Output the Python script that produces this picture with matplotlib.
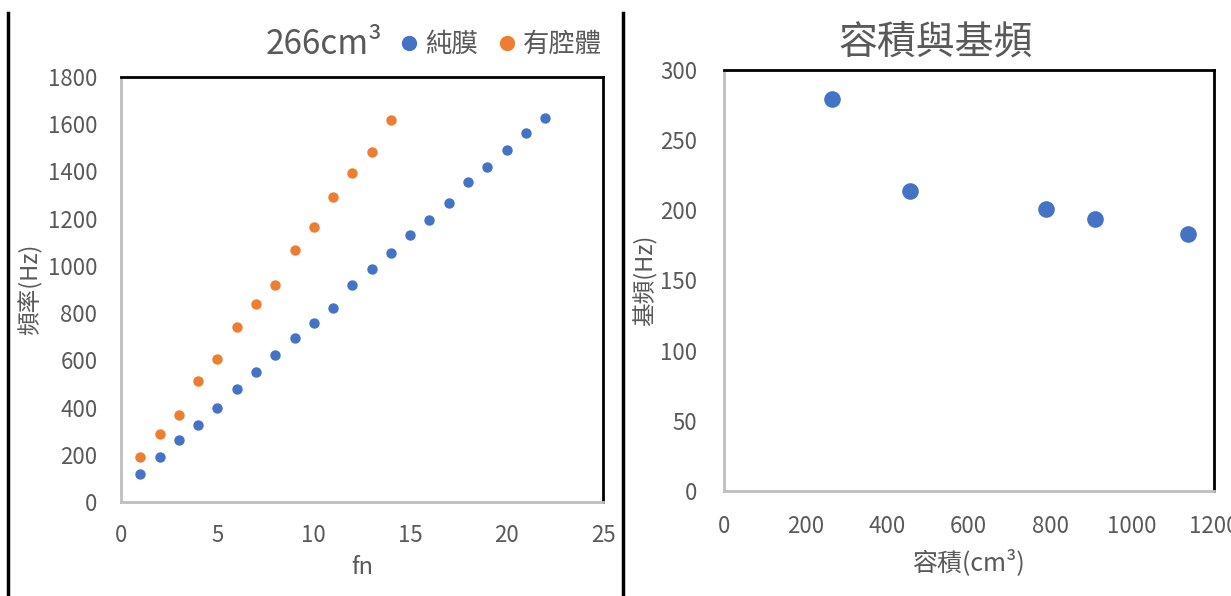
import matplotlib
matplotlib.use("Agg")
from matplotlib import pyplot as plt
from matplotlib.lines import Line2D

plt.rcParams['font.family'] = ['Noto Sans CJK TC', 'DejaVu Sans']

# left chart: harmonics of 266cm3 volume
fn_membrane = list(range(1, 23))
freq_membrane = [117, 189, 261, 325, 397, 479, 551, 623, 695, 759, 822,
                 920, 985, 1056, 1129, 1193, 1265, 1355, 1419, 1491, 1563, 1626]
fn_cavity = list(range(1, 15))
freq_cavity = [189, 289, 370, 514, 604, 740, 840, 920, 1066, 1165, 1292,
               1392, 1481, 1617]

# right chart: volume vs fundamental
volume = [266, 455, 790, 908, 1138]
fundamental = [279, 213.5, 201, 193.5, 183]

blue = '#4472C4'
orange = '#ED7D31'
gray = '#595959'

fig = plt.figure(figsize=(12.31, 5.96), dpi=100)


def style_axes(ax):
    for side in ['top', 'right']:
        ax.spines[side].set_color('black')
        ax.spines[side].set_linewidth(2)
    for side in ['left', 'bottom']:
        ax.spines[side].set_color('#BFBFBF')
        ax.spines[side].set_linewidth(2)
    ax.tick_params(length=0, labelsize=16, labelcolor=gray)


ax1 = fig.add_axes([0.0983, 0.1577, 0.3915, 0.7133])
ax1.scatter(fn_membrane, freq_membrane, s=42, color=blue, label='純膜', zorder=3)
ax1.scatter(fn_cavity, freq_cavity, s=42, color=orange, label='有腔體', zorder=3)
ax1.set_xlim(0, 25)
ax1.set_ylim(0, 1800)
ax1.set_xticks(range(0, 26, 5))
ax1.set_yticks(range(0, 1801, 200))
style_axes(ax1)
ax1.tick_params(axis='x', pad=16)
ax1.tick_params(axis='y', pad=17)
ax1.set_xlabel('fn', fontsize=17, color=gray, labelpad=6)
ax1.set_ylabel('頻率(Hz)', fontsize=17, color=gray, labelpad=4)

fig.text(0.263, 0.925, '266cm³', fontsize=24, color=gray, ha='center', va='center')
handles = [Line2D([], [], marker='o', ls='', color=blue, markersize=10),
           Line2D([], [], marker='o', ls='', color=orange, markersize=10)]
fig.legend(handles, ['純膜', '有腔體'], loc='center right', bbox_to_anchor=(0.508, 0.925),
           ncol=2, frameon=False, fontsize=19, labelcolor=gray,
           handletextpad=0.1, columnspacing=0.6, handlelength=1.0)

ax2 = fig.add_axes([0.588, 0.1762, 0.398, 0.7064])
ax2.scatter(volume, fundamental, s=120, color=blue, zorder=3)
ax2.set_xlim(0, 1200)
ax2.set_ylim(0, 300)
ax2.set_xticks(range(0, 1201, 200))
ax2.set_yticks(range(0, 301, 50))
style_axes(ax2)
ax2.tick_params(axis='x', pad=17)
ax2.tick_params(axis='y', pad=19)
ax2.set_xlabel('容積(cm³)', fontsize=18, color=gray, labelpad=8)
ax2.set_ylabel('基頻(Hz)', fontsize=17, color=gray, labelpad=2)
fig.text(0.760, 0.928, '容積與基頻', fontsize=28, color=gray, ha='center', va='center')

# page border lines
fig.add_artist(Line2D([0.0065, 0.0065], [0, 0.978], color='black', lw=2.5))
fig.add_artist(Line2D([0.506, 0.506], [0, 0.978], color='black', lw=2.5))

fig.savefig('out.png', dpi=100)
